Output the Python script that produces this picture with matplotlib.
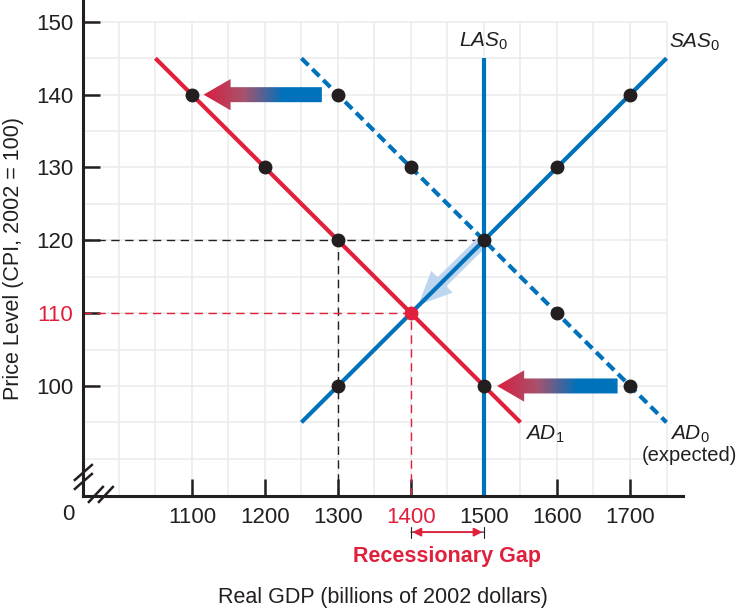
import matplotlib
matplotlib.use("Agg")
import matplotlib.pyplot as plt
import numpy as np
from matplotlib.colors import LinearSegmentedColormap
from matplotlib.patches import Polygon
import matplotlib.transforms as mtransforms

plt.rcParams["font.family"] = ["Liberation Sans", "DejaVu Sans"]
plt.rcParams["mathtext.fontset"] = "custom"
plt.rcParams["mathtext.it"] = "Liberation Sans:italic"
plt.rcParams["mathtext.rm"] = "Liberation Sans"

RED = "#e0203c"
BLUE = "#0072bc"
DARK = "#231f20"

# curves (real GDP, price level)
ad1_x = [1050, 1550]
ad1_y = [145, 95]
ad0_x = [1250, 1750]
ad0_y = [145, 95]
sas_x = [1250, 1750]
sas_y = [95, 145]
las_x = [1500, 1500]
las_y = [85, 145]

# black dots
dot_x = [1100, 1200, 1300, 1300, 1400, 1500, 1500, 1600, 1700, 1300, 1600, 1700]
dot_y = [140, 130, 120, 140, 130, 120, 100, 130, 140, 100, 110, 100]
eq_x, eq_y = 1400, 110

x_ticks = [1100, 1200, 1300, 1400, 1500, 1600, 1700]
y_ticks = [100, 110, 120, 130, 140, 150]

# shift arrows: (tail x, tip x, price level)
shift_arrows = [(1278, 1116, 140), (1683, 1518, 100)]
# movement along SAS: from, to
move_from = (1500, 120)
move_to = (1410, 111.1)

fig = plt.figure(figsize=(7.4, 6.1), dpi=100)
ax = fig.add_axes([0.112, 0.187, 0.811, 0.813])
ax.set_xlim(950.7, 1772.6)
ax.set_ylim(84.9, 153.0)

# grid
ax.vlines(np.arange(1000, 1751, 50), 84.9, 150, color="#ececec", lw=1.2, zorder=0)
ax.hlines(np.arange(90, 151, 5), 950.7, 1750, color="#ececec", lw=1.2, zorder=0)

# reference lines
ax.plot([950.7, 1500], [120, 120], color=DARK, lw=1, dashes=(6, 4), zorder=2)
ax.plot([1300, 1300], [84.9, 120], color=DARK, lw=1, dashes=(6, 4), zorder=2)
ax.plot([950.7, 1400], [110, 110], color=RED, lw=1, dashes=(6, 4), zorder=2)
ax.plot([1400, 1400], [84.9, 110], color=RED, lw=1, dashes=(6, 4), zorder=2)

# light blue movement arrow
ax.annotate("", xy=move_to, xytext=move_from,
            arrowprops=dict(arrowstyle="simple,head_length=1.2,head_width=1.1,tail_width=0.45",
                            color="#bed5ef", lw=0, shrinkA=0, shrinkB=0,
                            mutation_scale=20),
            zorder=3)

# curves
ax.plot(ad1_x, ad1_y, color=RED, lw=3, solid_capstyle="butt", zorder=4)
ax.plot(ad0_x, ad0_y, color=BLUE, lw=3, dashes=(2.4, 1.3), zorder=4)
ax.plot(sas_x, sas_y, color=BLUE, lw=3, solid_capstyle="butt", zorder=4)
ax.plot(las_x, las_y, color=BLUE, lw=3, solid_capstyle="butt", zorder=4)

ax.plot(dot_x, dot_y, "o", color=DARK, ms=9, zorder=6)
ax.plot([eq_x], [eq_y], "o", color=RED, ms=9, zorder=6)

# gradient shift arrows
cmap = LinearSegmentedColormap.from_list("rb", ["#d81f3e", "#a8526d", "#0072bc", "#0072bc"])
grad = np.linspace(0, 1, 256).reshape(1, -1)
body_h, head_h, head_len = 1.03, 2.15, 37
for tail, tip, yv in shift_arrows:
    base = tip + head_len
    verts = [(tip, yv), (base, yv + head_h), (base, yv + body_h), (tail, yv + body_h),
             (tail, yv - body_h), (base, yv - body_h), (base, yv - head_h)]
    poly = Polygon(verts, closed=True, facecolor="none", edgecolor="none",
                   transform=ax.transData)
    ax.add_patch(poly)
    im = ax.imshow(grad, cmap=cmap, aspect="auto",
                   extent=[tip, tail, yv - head_h, yv + head_h], zorder=5)
    im.set_clip_path(poly)
ax.set_xlim(950.7, 1772.6)
ax.set_ylim(84.9, 153.0)

# curve labels
ax.text(1500, 147.3, r"$\mathit{LAS}_\mathregular{0}$", fontsize=15, ha="center", va="center", color=DARK)
ax.text(1754, 147.2, r"$\mathit{SAS}_\mathregular{0}$", fontsize=15, ha="left", va="center", color=DARK)
ax.text(1556, 93.3, r"$\mathit{AD}_\mathregular{1}$", fontsize=15, ha="left", va="center", color=DARK)
ax.text(1755, 93.3, r"$\mathit{AD}_\mathregular{0}$", fontsize=15, ha="left", va="center", color=DARK)
ax.text(1716, 90.4, "(expected)", fontsize=14.5, ha="left", va="center", color=DARK)

# axes styling
for side in ["top", "right"]:
    ax.spines[side].set_visible(False)
for side in ["left", "bottom"]:
    ax.spines[side].set_linewidth(2.2)
    ax.spines[side].set_color(DARK)

ax.set_xticks(x_ticks)
ax.set_xticklabels([str(v) for v in x_ticks])
ax.set_yticks(y_ticks)
ax.set_yticklabels([str(v) for v in y_ticks])
ax.tick_params(axis="both", direction="in", length=12, width=1.8, color=DARK,
               labelsize=16, labelcolor=DARK)
ax.tick_params(axis="x", pad=8)
ax.tick_params(axis="y", pad=7)
for lab in ax.get_xticklabels():
    if lab.get_text() == "1400":
        lab.set_color(RED)
for lab in ax.get_yticklabels():
    if lab.get_text() == "110":
        lab.set_color(RED)

ax.annotate("0", xy=(0, 0), xycoords="axes fraction", xytext=(-15, -19),
            textcoords="offset pixels", fontsize=16, color=DARK, ha="center", va="center")

fig.text(0.0176, 0.577, "Price Level (CPI, 2002 = 100)", fontsize=15.5, color=DARK,
         rotation=90, ha="center", va="center")
fig.text(0.518, 0.0213, "Real GDP (billions of 2002 dollars)", fontsize=15.5, color=DARK,
         ha="center", va="center")

# recessionary gap
trans = mtransforms.blended_transform_factory(ax.transData, ax.transAxes)
ax.annotate("", xy=(1500, -0.073), xytext=(1400, -0.073), xycoords=trans, textcoords=trans,
            arrowprops=dict(arrowstyle="|-|,widthA=0.4,widthB=0.4", color=DARK, lw=0.8,
                            shrinkA=0, shrinkB=0), annotation_clip=False)
ax.annotate("", xy=(1498, -0.073), xytext=(1402, -0.073), xycoords=trans, textcoords=trans,
            arrowprops=dict(arrowstyle="<|-|>,head_length=0.5,head_width=0.25", color=RED, lw=1.3,
                            shrinkA=0, shrinkB=0), annotation_clip=False)
ax.text(1450, -0.123, "Recessionary Gap", transform=trans, fontsize=15.5, fontweight="bold",
        color=RED, ha="center", va="center", clip_on=False)

# axis break marks (pixel offsets from the corner)
W, H = 600.0, 496.0
def brk(x0, y0, x1, y1):
    ax.plot([x0 / W, x1 / W], [y0 / H, y1 / H], transform=ax.transAxes, color=DARK,
            lw=1.8, clip_on=False, zorder=7)
brk(-8, 7, 9, 22)
brk(-8, 16, 9, 31)
brk(6, -6, 20, 9)
brk(16, -6, 30, 9)

fig.savefig("out.png", dpi=100)
